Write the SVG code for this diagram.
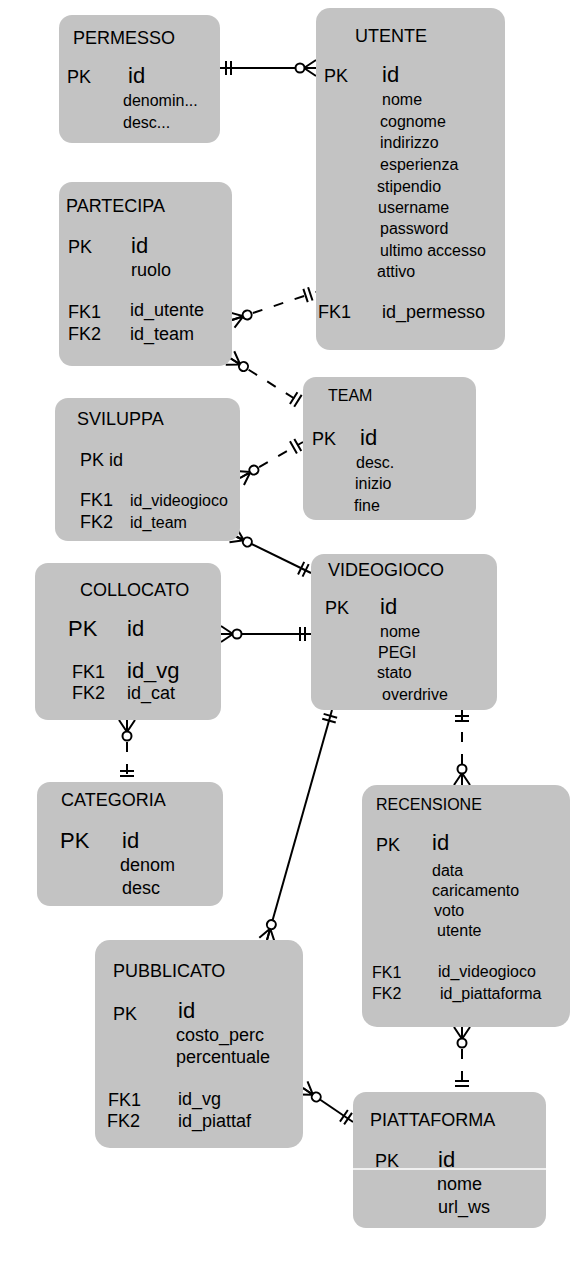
<svg xmlns="http://www.w3.org/2000/svg" xmlns:xlink="http://www.w3.org/1999/xlink" width="585" height="1280" viewBox="0 0 585 1280">
<style>
.box{fill:#c3c3c3;stroke:none}
text{font-family:"Liberation Sans",Arial,sans-serif;fill:#000}
.t{font-size:18px}
.k{font-size:18px}
.f{font-size:16px}
.big{font-size:22px}
.ln{stroke:#000;stroke-width:2;fill:none}
.ds{stroke:#000;stroke-width:2;fill:none;stroke-dasharray:10 12}
.sym{stroke:#000;stroke-width:2;fill:none}
</style>
<defs>
<g id="many" class="sym"><path d="M0,-8 L12,0 M0,8 L12,0 M0,0 L12,0"/><circle cx="16" cy="0" r="4.5" fill="#fff"/></g>
<g id="one" class="sym"><path d="M6,-7 L6,7 M11,-7 L11,7"/></g>
</defs>
<rect width="585" height="1280" fill="#fff"/>

<g id="connectors">
<line class="ln" x1="220" y1="68" x2="316" y2="68"/>
<use xlink:href="#one" transform="translate(220,68)"/>
<use xlink:href="#many" transform="translate(316,68) rotate(180)"/>

<line class="ds" x1="232" y1="320" x2="316" y2="292"/>
<use xlink:href="#many" transform="translate(232,320) rotate(-18.4)"/>
<use xlink:href="#one" transform="translate(316,292) rotate(161.6)"/>

<line class="ds" x1="230" y1="358" x2="303" y2="404"/>
<use xlink:href="#many" transform="translate(230,358) rotate(32.2)"/>
<use xlink:href="#one" transform="translate(303,404) rotate(212.2)"/>

<line class="ds" x1="240" y1="478" x2="303" y2="442"/>
<use xlink:href="#many" transform="translate(240,478) rotate(-29.7)"/>
<use xlink:href="#one" transform="translate(303,442) rotate(150.3)"/>

<line class="ln" x1="233" y1="535" x2="311" y2="573"/>
<use xlink:href="#many" transform="translate(233,535) rotate(26)"/>
<use xlink:href="#one" transform="translate(311,573) rotate(206)"/>

<line class="ln" x1="221" y1="634" x2="311" y2="634"/>
<use xlink:href="#many" transform="translate(221,634)"/>
<use xlink:href="#one" transform="translate(311,634) rotate(180)"/>

<line class="ds" x1="127" y1="720" x2="127" y2="782"/>
<use xlink:href="#many" transform="translate(127,720) rotate(90)"/>
<use xlink:href="#one" transform="translate(127,782) rotate(270)"/>

<line class="ln" x1="332" y1="710" x2="267" y2="940"/>
<use xlink:href="#one" transform="translate(332,710) rotate(105.8)"/>
<use xlink:href="#many" transform="translate(267,940) rotate(-74.2)"/>

<line class="ds" x1="462" y1="710" x2="462" y2="785"/>
<use xlink:href="#one" transform="translate(462,710) rotate(90)"/>
<use xlink:href="#many" transform="translate(462,785) rotate(270)"/>

<line class="ds" x1="462" y1="1027" x2="462" y2="1092"/>
<use xlink:href="#many" transform="translate(462,1027) rotate(90)"/>
<use xlink:href="#one" transform="translate(462,1092) rotate(270)"/>

<line class="ln" x1="303" y1="1088" x2="353" y2="1122"/>
<use xlink:href="#many" transform="translate(303,1088) rotate(34.2)"/>
<use xlink:href="#one" transform="translate(353,1122) rotate(214.2)"/>
</g>

<g id="permesso">
<rect class="box" x="59" y="15" width="161" height="128" rx="13"/>
<text class="t" x="73" y="44">PERMESSO</text>
<text class="k" x="67" y="83">PK</text>
<text class="big" x="128" y="83">id</text>
<text class="f" x="123" y="106">denomin...</text>
<text class="f" x="123" y="128">desc...</text>
</g>

<g id="utente">
<rect class="box" x="316" y="8" width="189" height="342" rx="14"/>
<text class="t" x="355" y="42">UTENTE</text>
<text class="k" x="324" y="82">PK</text>
<text class="big" x="382" y="82">id</text>
<text class="f" x="382" y="105">nome</text>
<text class="f" x="380" y="127">cognome</text>
<text class="f" x="380" y="148">indirizzo</text>
<text class="f" x="380" y="170">esperienza</text>
<text class="f" x="377" y="192">stipendio</text>
<text class="f" x="378" y="213">username</text>
<text class="f" x="380" y="234">password</text>
<text class="f" x="380" y="256">ultimo accesso</text>
<text class="f" x="377" y="277">attivo</text>
<text class="k" x="318" y="318">FK1</text>
<text class="k" x="382" y="318">id_permesso</text>
</g>

<g id="partecipa">
<rect class="box" x="59" y="182" width="173" height="184" rx="13"/>
<text class="t" x="66" y="212">PARTECIPA</text>
<text class="k" x="68" y="253">PK</text>
<text class="big" x="131" y="253">id</text>
<text class="k" x="131" y="276">ruolo</text>
<text class="k" x="68" y="318">FK1</text>
<text class="k" x="130" y="316">id_utente</text>
<text class="k" x="68" y="340">FK2</text>
<text class="k" x="130" y="340">id_team</text>
</g>

<g id="team">
<rect class="box" x="303" y="377" width="173" height="143" rx="13"/>
<text class="f" x="328" y="401">TEAM</text>
<text class="k" x="312" y="445">PK</text>
<text class="big" x="360" y="445">id</text>
<text class="f" x="356" y="468">desc.</text>
<text class="f" x="355" y="489">inizio</text>
<text class="f" x="354" y="511">fine</text>
</g>

<g id="sviluppa">
<rect class="box" x="55" y="398" width="185" height="143" rx="13"/>
<text class="t" x="77" y="425">SVILUPPA</text>
<text class="k" x="80" y="466">PK id</text>
<text class="k" x="80" y="506">FK1</text>
<text class="f" x="130" y="506">id_videogioco</text>
<text class="k" x="80" y="528">FK2</text>
<text class="f" x="130" y="528">id_team</text>
</g>

<g id="videogioco">
<rect class="box" x="311" y="554" width="186" height="156" rx="13"/>
<text class="t" x="328" y="576">VIDEOGIOCO</text>
<text class="k" x="325" y="614">PK</text>
<text class="big" x="380" y="614">id</text>
<text class="f" x="380" y="637">nome</text>
<text class="f" x="378" y="658">PEGI</text>
<text class="f" x="377" y="678">stato</text>
<text class="f" x="382" y="700">overdrive</text>
</g>

<g id="collocato">
<rect class="box" x="35" y="563" width="186" height="157" rx="13"/>
<text class="t" x="80" y="596">COLLOCATO</text>
<text class="big" x="68" y="636">PK</text>
<text class="big" x="127" y="636">id</text>
<text class="k" x="72" y="678">FK1</text>
<text class="big" x="127" y="678">id_vg</text>
<text class="k" x="72" y="699">FK2</text>
<text class="k" x="127" y="699">id_cat</text>
</g>

<g id="categoria">
<rect class="box" x="37" y="782" width="186" height="124" rx="13"/>
<text class="t" x="61" y="806">CATEGORIA</text>
<text class="big" x="60" y="848">PK</text>
<text class="big" x="122" y="848">id</text>
<text class="k" x="120" y="871">denom</text>
<text class="k" x="122" y="894">desc</text>
</g>

<g id="recensione">
<rect class="box" x="362" y="785" width="208" height="242" rx="15"/>
<text class="f" x="376" y="810">RECENSIONE</text>
<text class="k" x="376" y="851">PK</text>
<text class="big" x="432" y="850">id</text>
<text class="f" x="432" y="876">data</text>
<text class="f" x="432" y="896">caricamento</text>
<text class="f" x="434" y="916">voto</text>
<text class="f" x="437" y="936">utente</text>
<text class="f" x="372" y="978">FK1</text>
<text class="f" x="438" y="977">id_videogioco</text>
<text class="f" x="372" y="999">FK2</text>
<text class="f" x="440" y="999">id_piattaforma</text>
</g>

<g id="pubblicato">
<rect class="box" x="95" y="940" width="208" height="208" rx="15"/>
<text class="t" x="113" y="977">PUBBLICATO</text>
<text class="k" x="113" y="1020">PK</text>
<text class="big" x="178" y="1018">id</text>
<text class="k" x="176" y="1041">costo_perc</text>
<text class="k" x="176" y="1063">percentuale</text>
<text class="k" x="108" y="1106">FK1</text>
<text class="k" x="178" y="1105">id_vg</text>
<text class="k" x="107" y="1127">FK2</text>
<text class="k" x="178" y="1127">id_piattaf</text>
</g>

<g id="piattaforma">
<rect class="box" x="353" y="1092" width="193" height="136" rx="13"/>
<line x1="353" y1="1169" x2="546" y2="1169" stroke="#fff" stroke-width="1.5"/>
<text class="t" x="370" y="1126">PIATTAFORMA</text>
<text class="k" x="375" y="1167">PK</text>
<text class="big" x="438" y="1167">id</text>
<text class="k" x="437" y="1190">nome</text>
<text class="k" x="438" y="1213">url_ws</text>
</g>
</svg>
